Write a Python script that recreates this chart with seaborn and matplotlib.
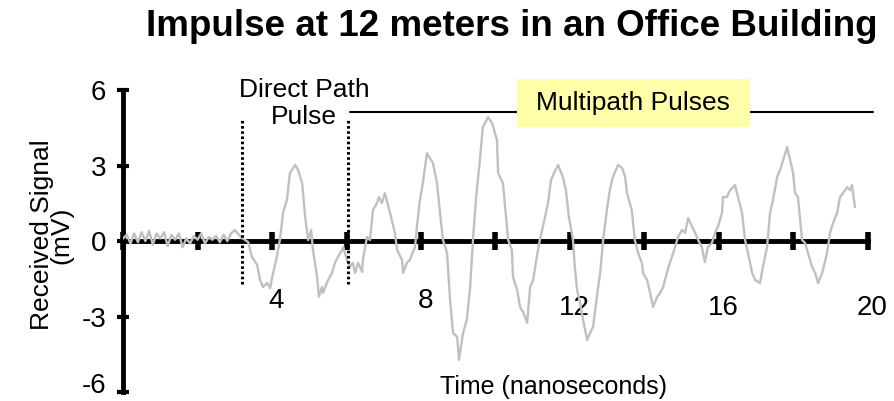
import matplotlib
matplotlib.use("Agg")
import matplotlib.pyplot as plt
import matplotlib.transforms as mtransforms
from matplotlib.patches import Rectangle
import numpy as np
import pandas as pd
import seaborn as sns

# Received impulse waveform (time in ns, amplitude in mV)
time_ns = [
    0.0, 0.1, 0.2, 0.3, 0.4, 0.5, 0.6, 0.7, 0.8, 0.9,
    1.0, 1.1, 1.2, 1.3, 1.4, 1.5, 1.6, 1.7, 1.8, 1.9,
    2.0, 2.1, 2.2, 2.3, 2.4, 2.5, 2.6, 2.7, 2.8, 2.9,
    3.0, 3.19, 3.36, 3.46, 3.60, 3.68, 3.76, 3.87, 3.95, 4.00,
    4.13, 4.21, 4.30, 4.40, 4.48, 4.62, 4.70, 4.81, 4.89, 4.97,
    5.05, 5.10, 5.21, 5.26, 5.34, 5.37, 5.48, 5.61, 5.69, 5.77,
    5.88, 5.91, 6.01, 6.09, 6.17, 6.23, 6.31, 6.42, 6.44, 6.55,
    6.63, 6.71, 6.82, 6.87, 6.95, 7.03, 7.17, 7.30, 7.36, 7.49,
    7.52, 7.62, 7.70, 7.84, 7.89, 7.97, 8.05, 8.16, 8.24, 8.32,
    8.43, 8.51, 8.59, 8.70, 8.78, 8.86, 8.97, 9.02, 9.13, 9.23,
    9.32, 9.40, 9.48, 9.58, 9.66, 9.80, 9.91, 10.04, 10.07, 10.20,
    10.26, 10.34, 10.44, 10.47, 10.58, 10.66, 10.74, 10.85, 10.93, 11.01,
    11.11, 11.19, 11.33, 11.41, 11.49, 11.57, 11.68, 11.81, 11.89, 11.97,
    12.08, 12.13, 12.19, 12.27, 12.35, 12.46, 12.54, 12.62, 12.72, 12.81,
    12.89, 12.99, 13.07, 13.15, 13.29, 13.40, 13.48, 13.53, 13.66, 13.74,
    13.83, 13.93, 13.96, 14.07, 14.15, 14.23, 14.34, 14.42, 14.50, 14.60,
    14.68, 14.77, 14.82, 14.90, 15.01, 15.09, 15.17, 15.28, 15.36, 15.44,
    15.54, 15.62, 15.70, 15.81, 15.89, 15.97, 16.08, 16.11, 16.21, 16.30,
    16.43, 16.51, 16.62, 16.70, 16.78, 16.89, 16.97, 17.10, 17.18, 17.29,
    17.37, 17.45, 17.56, 17.64, 17.72, 17.83, 17.91, 17.99, 18.04, 18.12,
    18.23, 18.31, 18.39, 18.50, 18.58, 18.66, 18.77, 18.90, 18.98, 19.06,
    19.17, 19.25, 19.33, 19.44, 19.52, 19.57, 19.65,
]
signal_mv = [
    0.10, 0.25, -0.10, 0.30, -0.05, 0.35, 0.00, 0.40, -0.15, 0.30,
    0.10, 0.35, -0.20, 0.25, 0.05, 0.30, -0.25, 0.10, -0.10, 0.20,
    0.05, 0.30, -0.10, 0.15, 0.05, 0.20, -0.05, 0.25, 0.00, 0.30,
    0.44, 0.12, -0.04, -0.63, -0.95, -1.55, -1.83, -1.67, -1.87, -1.47,
    -0.63, 0.04, 1.15, 1.63, 2.70, 3.02, 2.82, 2.30, 0.95, 0.04,
    0.44, -0.36, -1.43, -2.22, -1.83, -2.06, -1.63, -1.27, -0.87, -0.63,
    -0.36, -0.24, -0.75, -1.03, -0.87, -1.27, -0.87, -1.23, -0.75, 0.16,
    0.04, 1.23, 1.51, 1.75, 1.51, 1.90, 1.11, 0.32, -0.36, -0.75,
    -1.27, -0.87, -0.75, -0.24, 0.56, 1.63, 2.30, 3.49, 3.29, 3.10,
    2.30, 1.11, 0.04, -0.48, -2.34, -3.65, -3.81, -4.72, -3.65, -3.13,
    -1.83, 0.16, 1.75, 3.21, 4.52, 4.92, 4.68, 4.01, 2.70, 2.30,
    1.35, 0.04, -0.36, -1.43, -1.94, -2.62, -2.82, -3.25, -1.83, -1.55,
    -0.63, 0.04, 0.95, 1.51, 2.42, 2.70, 3.02, 2.54, 2.02, 0.95,
    0.04, -1.03, -1.94, -2.46, -3.13, -3.93, -3.65, -3.41, -2.22, -1.27,
    0.04, 1.23, 2.02, 2.54, 3.02, 2.90, 2.54, 1.90, 1.23, 0.04,
    -0.48, -0.87, -1.27, -1.55, -2.06, -2.62, -2.22, -2.06, -1.83, -1.27,
    -0.87, -0.48, -0.24, 0.16, 0.44, 0.32, 0.91, 0.56, 0.32, 0.04,
    -0.24, -0.83, -0.24, -0.08, 0.32, 0.56, 1.11, 1.75, 1.75, 2.02,
    2.22, 1.75, 1.11, 0.04, -0.48, -1.27, -1.55, -1.67, -1.03, -0.24,
    1.11, 1.63, 2.54, 2.82, 3.21, 3.73, 3.21, 2.70, 1.90, 1.75,
    0.04, -0.08, -0.48, -1.03, -1.27, -1.67, -1.27, -0.48, 0.32, 0.71,
    1.11, 1.75, 1.90, 2.14, 2.02, 2.22, 1.35,
]

x_ticks = [0, 2, 4, 6, 8, 10, 12, 14, 16, 18, 20]
x_tick_labels = ["", "", "4", "", "8", "", "12", "", "16", "", "20"]
y_ticks = [6, 3, 0, -3, -6]
y_tick_labels = ["6", "3", "0", "-3", "-6"]

# Annotation geometry (time in ns, amplitude in mV)
direct_start, direct_end = 3.19, 6.03
marker_bottom, marker_top = -1.7, 4.88
multipath_level = 5.13
multipath_end = 20.13

sns.set_theme(style="white")
plt.rcParams["font.family"] = ["Liberation Sans", "DejaVu Sans"]
plt.rcParams["axes.unicode_minus"] = False
plt.rcParams["text.color"] = "black"
plt.rcParams["axes.labelcolor"] = "black"
plt.rcParams["xtick.color"] = "black"
plt.rcParams["ytick.color"] = "black"

fig = plt.figure(figsize=(8.94, 4.01), dpi=100)
ax = fig.add_axes([0.1376, 0.02244, 0.8333, 0.7531])

df = pd.DataFrame({"Time (nanoseconds)": time_ns, "Received Signal": signal_mv})
sns.lineplot(data=df, x="Time (nanoseconds)", y="Received Signal", ax=ax,
             color="#c0c0c0", linewidth=1.7, zorder=3, sort=False)

ax.set_xlim(0, 20)
ax.set_ylim(-6, 6)

# Axis styling: y axis at t=0, x axis crossing at 0 mV
for side in ("top", "right"):
    ax.spines[side].set_visible(False)
ax.spines["bottom"].set_position(("data", 0))
ax.spines["bottom"].set_linewidth(3.5)
ax.spines["left"].set_linewidth(3.5)
ax.spines["bottom"].set_color("black")
ax.spines["left"].set_color("black")

ax.set_xticks(x_ticks)
ax.set_xticklabels(x_tick_labels)
ax.set_yticks(y_ticks)
ax.set_yticklabels(y_tick_labels)
ax.tick_params(axis="x", direction="inout", length=13, width=4, pad=27,
               labelsize=20, labelcolor="black", color="black", bottom=True)
ax.tick_params(axis="y", direction="inout", length=8, width=3, pad=8,
               labelsize=20, labelcolor="black", color="black", left=True)

# Later labels sit a little lower
for lbl in ax.get_xticklabels():
    dy = -7 if lbl.get_text() in ("12", "16", "20") else 0
    off = mtransforms.ScaledTranslation(4 / 100, dy / 100, fig.dpi_scale_trans)
    lbl.set_transform(lbl.get_transform() + off)
# Bottom y label lifted so it stays inside the figure
for lbl in ax.get_yticklabels():
    if lbl.get_text() == "-6":
        off = mtransforms.ScaledTranslation(0, 9 / 100, fig.dpi_scale_trans)
        lbl.set_transform(lbl.get_transform() + off)

ax.set_xlabel("")
ax.set_ylabel("Received Signal\n(mV)", fontsize=19, linespacing=0.8,
              color="black")
ax.yaxis.set_label_coords(-0.066, 0.52)

ax.text(11.57, -5.8, "Time (nanoseconds)", fontsize=18, ha="center", va="center")

# Direct path window
for xv in (direct_start, direct_end):
    ax.plot([xv, xv], [marker_bottom, marker_top], color="black", lw=2.2,
            linestyle=(0, (0.85, 0.85)), zorder=4, clip_on=False)
ax.text(4.86, 5.48, "Direct Path\nPulse", fontsize=19, ha="center", va="center",
        multialignment="center", linespacing=1.15)

# Multipath span and label box
ax.plot([6.09, multipath_end], [multipath_level, multipath_level], color="black",
        lw=1.5, zorder=4, clip_on=False)
ax.add_patch(Rectangle((10.58, 4.52), 6.25, 1.91, facecolor="#ffffaa",
                       edgecolor="none", zorder=5, clip_on=False))
ax.text(13.69, 5.48, "Multipath Pulses", fontsize=19, ha="center", va="center",
        zorder=6)

fig.text(512 / 894, 1 - 27 / 401, "Impulse at 12 meters in an Office Building",
         fontsize=26.5, fontweight="bold", ha="center", va="center")

fig.savefig("out.png", dpi=100)
